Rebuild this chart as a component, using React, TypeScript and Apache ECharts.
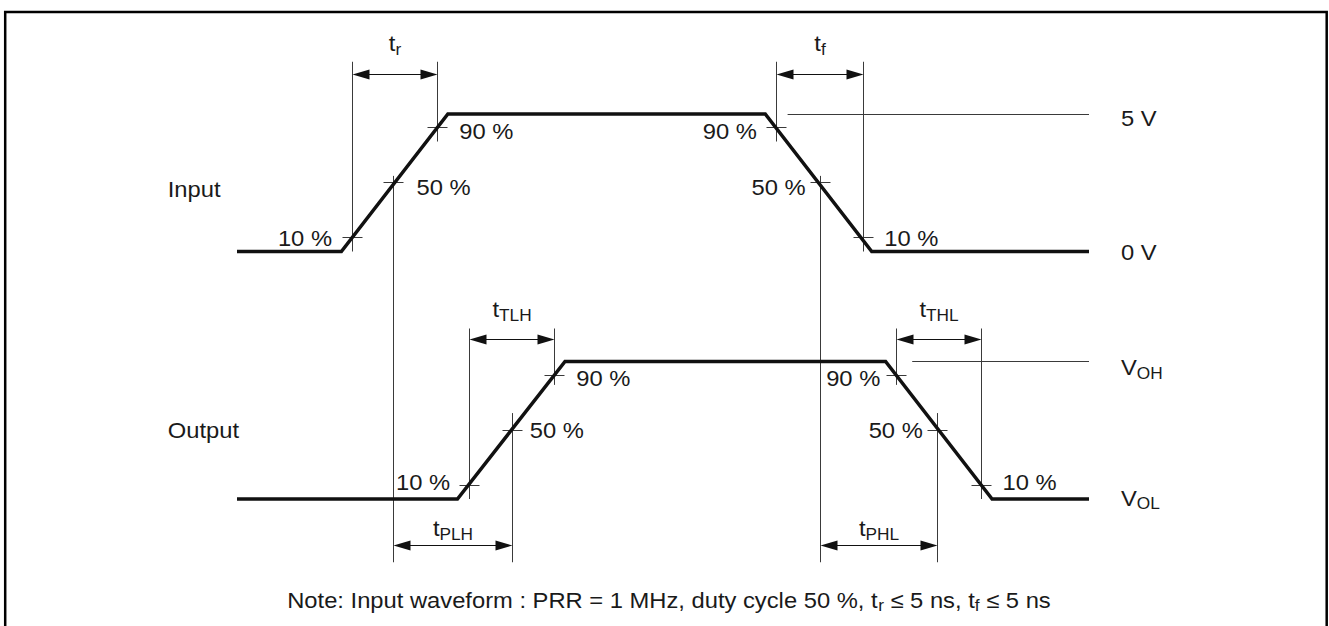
import React, { useEffect, useRef } from 'react';
import * as echarts from 'echarts';

// ---- data (time in arbitrary ns-like units, levels in % of swing) ----
const inputTimes = [0, 9.8, 19.8, 49.6, 59.6, 80];
const inputLevels = [0, 0, 100, 100, 0, 0];
const outputTimes = [0, 20.7, 30.8, 60.9, 70.9, 80];
const outputLevels = [0, 0, 100, 100, 0, 0];

const thresholdLevels = [10, 50, 90];
const thresholdLabels = ['10 %', '50 %', '90 %'];

// crossing times, ordered 10 %, 50 %, 90 %
const inputRiseCross = [10.8, 14.7, 18.8];
const inputFallCross = [58.8, 54.8, 50.7];
const outputRiseCross = [21.8, 25.9, 29.8];
const outputFallCross = [69.9, 65.8, 61.9];

const inputLevelLabels = ['0 V', '5 V'];
const outputLevelLabels = [['V', 'OL'], ['V', 'OH']];
const signalNames = ['Input', 'Output'];
const dimLabels = [['t', 'r'], ['t', 'f'], ['t', 'TLH'], ['t', 'THL'], ['t', 'PLH'], ['t', 'PHL']];
const noteSegments: [string, boolean][] = [
  ['Note: Input waveform : PRR = 1 MHz, duty cycle 50 %, t', false],
  ['r', true],
  [' \u2264 5 ns, t', false],
  ['f', true],
  [' \u2264 5 ns', false],
];

const INPUT_OFFSET = 180;

// ---- layout ----
const FONT = '"Liberation Sans", Arial, Helvetica, sans-serif';
const FS = 22;
const SFS = 16;
const SX = 1.08;
const INK = '#3a3a3a';
const WAVE = '#111';

let mctx: CanvasRenderingContext2D | null = null;
function measure(text: string, size: number) {
  if (!mctx) mctx = document.createElement('canvas').getContext('2d');
  mctx!.font = `${size}px ${FONT}`;
  return mctx!.measureText(text).width * SX;
}

const inY = (lvl: number) => lvl + INPUT_OFFSET;
const L = {
  inDimY: inY(129),
  inLineTop: inY(138),
  in90Bottom: inY(80),
  in50Top: inY(55),
  outDimY: 116,
  outLineTop: 124,
  out90Bottom: 83,
  out50Top: 62.5,
  propDimY: -34,
  lineBottom: -46,
  inRefStart: 51.7,
  outRefStart: 63.4,
  labelX: 83,
  leftLabelX: -6.5,
};

const X_MIN = 0;
const X_MAX = 80;

const snap = (v: number) => Math.round(v - 0.5) + 0.5;

function txt(text: string, x: number, y: number, align: string, size = FS) {
  return {
    type: 'text',
    x,
    y,
    scaleX: SX,
    silent: true,
    style: { text, x: 0, y: 0, align, verticalAlign: 'middle', font: `${size}px ${FONT}`, fill: '#1a1a1a' },
  };
}

function subLabel(main: string, sub: string, x: number, y: number, align: 'center' | 'left') {
  const wm = measure(main, FS);
  const ws = measure(sub, SFS);
  const start = align === 'center' ? x - (wm + ws) / 2 : x;
  return [txt(main, start, y, 'left'), txt(sub, start + wm, y + 6, 'left', SFS)];
}

function renderItem(params: any, api: any) {
  const P = (x: number, y: number) => api.coord([x, y]);
  const ch: any[] = [];
  const vline = (x: number, yTop: number, yBot: number) => {
    const a = P(x, yTop);
    const b = P(x, yBot);
    const sx = snap(a[0]);
    ch.push({ type: 'line', silent: true, shape: { x1: sx, y1: a[1], x2: sx, y2: b[1] }, style: { stroke: INK, lineWidth: 1 } });
  };
  const hlinePx = (y: number, x1: number, x2: number) => {
    const sy = snap(y);
    ch.push({ type: 'line', silent: true, shape: { x1, y1: sy, x2, y2: sy }, style: { stroke: INK, lineWidth: 1 } });
  };
  const dim = (xa: number, xb: number, y: number, label: string[], labelDy: number) => {
    const a = P(xa, y);
    const b = P(xb, y);
    const ax = snap(a[0]);
    const bx = snap(b[0]);
    const yy = snap(a[1]);
    ch.push({ type: 'line', silent: true, shape: { x1: ax + 10, y1: yy, x2: bx - 10, y2: yy }, style: { stroke: '#111', lineWidth: 1 } });
    ch.push({ type: 'polygon', silent: true, shape: { points: [[ax, yy], [ax + 17, yy - 5], [ax + 17, yy + 5]] }, style: { fill: '#111' } });
    ch.push({ type: 'polygon', silent: true, shape: { points: [[bx, yy], [bx - 17, yy - 5], [bx - 17, yy + 5]] }, style: { fill: '#111' } });
    ch.push(...subLabel(label[0], label[1], (ax + bx) / 2, yy + labelDy, 'center'));
  };
  const crossings = (xs: number[], offset: number, cfg: [number, number, string][]) => {
    xs.forEach((x, i) => {
      const p = P(x, thresholdLevels[i] + offset);
      hlinePx(p[1], snap(p[0]) - 10, snap(p[0]) + 10);
      const [dx, dy, al] = cfg[i];
      ch.push(txt(thresholdLabels[i], p[0] + dx, p[1] + dy, al));
    });
  };

  // vertical measuring lines: input
  vline(inputRiseCross[0], inY(0), L.inLineTop);
  vline(inputRiseCross[2], L.in90Bottom, L.inLineTop);
  vline(inputRiseCross[1], L.in50Top, L.lineBottom);
  vline(inputFallCross[0], inY(0), L.inLineTop);
  vline(inputFallCross[2], L.in90Bottom, L.inLineTop);
  vline(inputFallCross[1], L.in50Top, L.lineBottom);
  // output
  vline(outputRiseCross[0], 0, L.outLineTop);
  vline(outputRiseCross[2], L.out90Bottom, L.outLineTop);
  vline(outputRiseCross[1], L.out50Top, L.lineBottom);
  vline(outputFallCross[0], 0, L.outLineTop);
  vline(outputFallCross[2], L.out90Bottom, L.outLineTop);
  vline(outputFallCross[1], L.out50Top, L.lineBottom);

  // reference high-level lines
  {
    const a = P(L.inRefStart, inY(100));
    const b = P(X_MAX, inY(100));
    hlinePx(a[1], a[0], b[0]);
    const c = P(L.outRefStart, 100);
    const d = P(X_MAX, 100);
    hlinePx(c[1], c[0], d[0]);
  }

  // crossing ticks & percent labels
  crossings(inputRiseCross, INPUT_OFFSET, [[-20, 1, 'right'], [23, 5, 'left'], [22, 4, 'left']]);
  crossings(inputFallCross, INPUT_OFFSET, [[21, 1, 'left'], [-15, 5, 'right'], [-20, 4, 'right']]);
  crossings(outputRiseCross, 0, [[-19, -3, 'right'], [17, 0, 'left'], [22, 3, 'left']]);
  crossings(outputFallCross, 0, [[21, -3, 'left'], [-15, 0, 'right'], [-16, 3, 'right']]);

  // dimension arrows
  dim(inputRiseCross[0], inputRiseCross[2], L.inDimY, dimLabels[0], -31);
  dim(inputFallCross[2], inputFallCross[0], L.inDimY, dimLabels[1], -31);
  dim(outputRiseCross[0], outputRiseCross[2], L.outDimY, dimLabels[2], -30);
  dim(outputFallCross[2], outputFallCross[0], L.outDimY, dimLabels[3], -30);
  dim(inputRiseCross[1], outputRiseCross[1], L.propDimY, dimLabels[4], -17);
  dim(inputFallCross[1], outputFallCross[1], L.propDimY, dimLabels[5], -17);

  // level labels on the right
  {
    const p0 = P(L.labelX, inY(0));
    const p1 = P(L.labelX, inY(100));
    ch.push(txt(inputLevelLabels[0], p0[0], p0[1] + 1, 'left'));
    ch.push(txt(inputLevelLabels[1], p1[0], p1[1] + 4, 'left'));
    const q0 = P(L.labelX, 0);
    const q1 = P(L.labelX, 100);
    ch.push(...subLabel(outputLevelLabels[0][0], outputLevelLabels[0][1], q0[0], q0[1] - 1, 'left'));
    ch.push(...subLabel(outputLevelLabels[1][0], outputLevelLabels[1][1], q1[0], q1[1] + 6, 'left'));
  }

  // signal names
  {
    const a = P(L.leftLabelX, inY(45));
    ch.push(txt(signalNames[0], a[0], a[1], 'left'));
    const b = P(L.leftLabelX, 50);
    ch.push(txt(signalNames[1], b[0], b[1], 'left'));
  }

  return { type: 'group', children: ch };
}

function buildNote() {
  const widths = noteSegments.map(([t, s]) => measure(t, s ? SFS : FS));
  const total = widths.reduce((a, b) => a + b, 0);
  let x = 669 - total / 2;
  const y = 600;
  const els: any[] = [];
  noteSegments.forEach(([t, s], i) => {
    els.push({
      type: 'text',
      x,
      y: s ? y + 6 : y,
      scaleX: SX,
      silent: true,
      style: { text: t, x: 0, y: 0, align: 'left', verticalAlign: 'middle', font: `${s ? SFS : FS}px ${FONT}`, fill: '#1a1a1a' },
    });
    x += widths[i];
  });
  return els;
}

export default function App() {
  const ref = useRef<HTMLDivElement>(null);
  useEffect(() => {
    const chart = echarts.init(ref.current!, null, { renderer: 'svg' });
    const inputData = inputTimes.map((t, i) => [t, inputLevels[i] + INPUT_OFFSET]);
    const outputData = outputTimes.map((t, i) => [t, outputLevels[i]]);
    chart.setOption({
      animation: false,
      backgroundColor: '#ffffff',
      grid: { left: 237, right: 240, top: 31.5, height: 577.5 },
      xAxis: { type: 'value', min: X_MIN, max: X_MAX, show: false },
      yAxis: { type: 'value', min: -80, max: 340, show: false },
      series: [
        {
          type: 'custom',
          name: 'annotations',
          data: [[0, 0]],
          renderItem,
          clip: false,
          silent: true,
          z: 2,
        },
        {
          type: 'line',
          name: 'Input',
          data: inputData,
          symbol: 'none',
          silent: true,
          z: 3,
          lineStyle: { color: WAVE, width: 3.5, join: 'miter', cap: 'butt' },
        },
        {
          type: 'line',
          name: 'Output',
          data: outputData,
          symbol: 'none',
          silent: true,
          z: 3,
          lineStyle: { color: WAVE, width: 3.5, join: 'miter', cap: 'butt' },
        },
      ],
      graphic: [
        {
          type: 'rect',
          silent: true,
          shape: { x: 5.2, y: 12, width: 1321.5, height: 700 },
          style: { fill: 'none', stroke: '#000', lineWidth: 2.5 },
        },
        ...buildNote(),
      ],
    });
    return () => chart.dispose();
  }, []);
  return (
    <div
      ref={ref}
      style={{ position: 'fixed', left: 0, top: 0, width: 1329, height: 626, background: '#fff' }}
    />
  );
}
